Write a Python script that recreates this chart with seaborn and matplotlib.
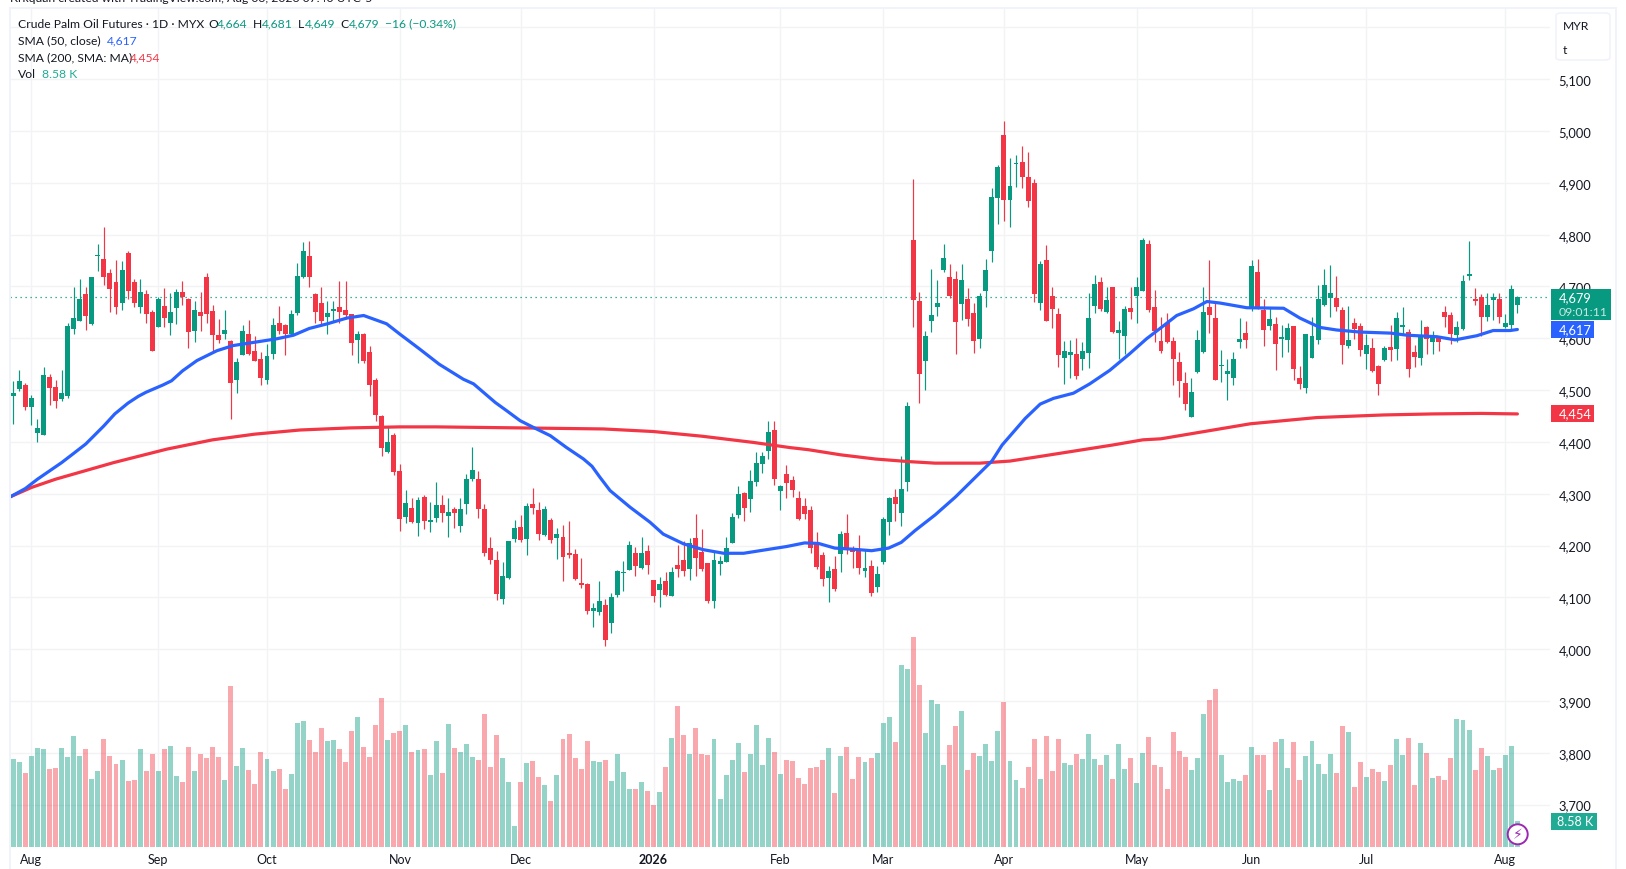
import matplotlib
matplotlib.use("Agg")
import matplotlib.pyplot as plt
from matplotlib.patches import FancyBboxPatch, Rectangle, Circle
import numpy as np
import pandas as pd
import seaborn as sns

open_ = [
    4489, 4502, 4510, 4467, 4417, 4413, 4525, 4506, 4483, 4489,
    4618, 4633, 4686, 4628, 4759, 4753, 4726, 4709, 4668, 4765,
    4709, 4660, 4686, 4651, 4622, 4662, 4630, 4658, 4689, 4676,
    4614, 4651, 4718, 4653, 4606, 4608, 4595, 4520, 4568, 4608,
    4575, 4560, 4520, 4570, 4630, 4626, 4608, 4649, 4718, 4759,
    4686, 4668, 4641, 4653, 4660, 4655, 4647, 4597, 4608, 4574,
    4520, 4450, 4380, 4413, 4344, 4255, 4272, 4243, 4294, 4245,
    4253, 4278, 4257, 4270, 4238, 4280, 4328, 4328, 4270, 4195,
    4172, 4097, 4137, 4212, 4236, 4212, 4280, 4268, 4220, 4249,
    4214, 4216, 4185, 4183, 4128, 4126, 4073, 4072, 4085, 4050,
    4104, 4147, 4153, 4185, 4157, 4189, 4133, 4114, 4131, 4102,
    4162, 4172, 4155, 4214, 4187, 4166, 4093, 4164, 4168, 4205,
    4259, 4301, 4290, 4323, 4357, 4382, 4423, 4305, 4338, 4326,
    4292, 4276, 4268, 4203, 4182, 4137, 4155, 4184, 4224, 4195,
    4189, 4151, 4160, 4120, 4168, 4245, 4294, 4263, 4323, 4790,
    4672, 4556, 4633, 4660, 4732, 4718, 4714, 4666, 4676, 4649,
    4599, 4691, 4769, 4871, 4992, 4867, 4937, 4940, 4911, 4900,
    4668, 4751, 4682, 4647, 4562, 4568, 4570, 4560, 4572, 4662,
    4709, 4651, 4699, 4610, 4604, 4659, 4682, 4691, 4782, 4660,
    4595, 4630, 4595, 4554, 4514, 4448, 4535, 4574, 4660, 4639,
    4547, 4531, 4523, 4593, 4610, 4657, 4728, 4655, 4624, 4628,
    4599, 4597, 4624, 4523, 4504, 4562, 4597, 4664, 4678, 4678,
    4655, 4585, 4630, 4624, 4570, 4581, 4547, 4558, 4583, 4579,
    4622, 4612, 4574, 4562, 4622, 4593, 4604, 4651, 4645, 4606,
    4618, 4720, 4676, 4680, 4641, 4674, 4676, 4622, 4626, 4664,
]
high = [
    4518, 4538, 4513, 4490, 4444, 4545, 4531, 4520, 4539, 4630,
    4699, 4715, 4699, 4718, 4782, 4815, 4734, 4751, 4749, 4769,
    4715, 4715, 4693, 4655, 4680, 4697, 4687, 4695, 4711, 4678,
    4672, 4689, 4726, 4664, 4637, 4655, 4597, 4562, 4626, 4635,
    4604, 4574, 4589, 4639, 4662, 4628, 4655, 4745, 4786, 4788,
    4687, 4699, 4672, 4672, 4711, 4711, 4647, 4614, 4610, 4585,
    4523, 4452, 4429, 4417, 4357, 4307, 4292, 4294, 4297, 4284,
    4323, 4297, 4292, 4274, 4292, 4338, 4390, 4344, 4280, 4216,
    4189, 4168, 4209, 4249, 4259, 4282, 4311, 4284, 4276, 4253,
    4234, 4240, 4247, 4193, 4176, 4128, 4089, 4131, 4097, 4108,
    4153, 4170, 4209, 4197, 4216, 4201, 4133, 4139, 4149, 4158,
    4201, 4209, 4214, 4261, 4232, 4166, 4187, 4180, 4216, 4263,
    4315, 4303, 4346, 4380, 4380, 4440, 4440, 4317, 4355, 4334,
    4305, 4292, 4276, 4226, 4187, 4160, 4180, 4228, 4261, 4199,
    4220, 4191, 4172, 4160, 4255, 4294, 4309, 4373, 4477, 4908,
    4689, 4614, 4734, 4713, 4782, 4743, 4730, 4743, 4697, 4668,
    4687, 4753, 4890, 4935, 5020, 4948, 4954, 4971, 4960, 4908,
    4749, 4780, 4699, 4659, 4595, 4597, 4601, 4593, 4687, 4722,
    4718, 4699, 4699, 4633, 4662, 4699, 4718, 4794, 4790, 4693,
    4641, 4649, 4602, 4574, 4535, 4523, 4616, 4699, 4751, 4672,
    4577, 4560, 4574, 4639, 4633, 4751, 4753, 4676, 4659, 4641,
    4626, 4630, 4624, 4547, 4608, 4641, 4703, 4734, 4742, 4720,
    4660, 4662, 4639, 4630, 4608, 4601, 4548, 4585, 4626, 4651,
    4660, 4618, 4587, 4635, 4624, 4614, 4604, 4662, 4651, 4633,
    4722, 4788, 4697, 4686, 4688, 4688, 4688, 4647, 4703, 4681,
]
low = [
    4435, 4499, 4462, 4433, 4400, 4413, 4471, 4465, 4479, 4485,
    4608, 4633, 4616, 4626, 4730, 4703, 4651, 4647, 4655, 4676,
    4660, 4649, 4630, 4575, 4622, 4622, 4606, 4628, 4664, 4581,
    4593, 4614, 4630, 4575, 4591, 4599, 4444, 4494, 4568, 4568,
    4556, 4510, 4512, 4560, 4608, 4568, 4606, 4645, 4716, 4699,
    4630, 4626, 4608, 4633, 4630, 4637, 4568, 4552, 4552, 4489,
    4440, 4373, 4379, 4336, 4228, 4243, 4243, 4218, 4232, 4226,
    4245, 4245, 4216, 4234, 4226, 4261, 4325, 4253, 4180, 4164,
    4095, 4087, 4135, 4207, 4207, 4182, 4261, 4211, 4218, 4205,
    4174, 4131, 4176, 4133, 4118, 4068, 4043, 4066, 4006, 4031,
    4101, 4112, 4153, 4141, 4155, 4145, 4091, 4081, 4102, 4102,
    4139, 4141, 4133, 4141, 4151, 4089, 4079, 4143, 4168, 4205,
    4253, 4247, 4265, 4315, 4340, 4367, 4317, 4269, 4292, 4294,
    4249, 4251, 4185, 4155, 4122, 4091, 4112, 4149, 4184, 4157,
    4145, 4139, 4102, 4110, 4164, 4220, 4247, 4238, 4305, 4622,
    4475, 4500, 4612, 4643, 4728, 4678, 4570, 4635, 4624, 4572,
    4581, 4660, 4747, 4821, 4826, 4815, 4892, 4890, 4854, 4670,
    4655, 4633, 4620, 4545, 4512, 4523, 4521, 4539, 4543, 4649,
    4653, 4649, 4610, 4560, 4570, 4637, 4630, 4691, 4651, 4593,
    4572, 4591, 4510, 4487, 4462, 4448, 4533, 4572, 4610, 4519,
    4516, 4481, 4510, 4581, 4581, 4653, 4657, 4585, 4616, 4539,
    4564, 4574, 4519, 4502, 4494, 4562, 4589, 4662, 4641, 4653,
    4550, 4581, 4599, 4566, 4541, 4535, 4490, 4556, 4556, 4558,
    4606, 4525, 4545, 4548, 4570, 4570, 4576, 4622, 4589, 4593,
    4616, 4712, 4664, 4604, 4633, 4635, 4630, 4620, 4616, 4649,
]
close = [
    4494, 4518, 4467, 4485, 4427, 4529, 4504, 4479, 4494, 4624,
    4639, 4676, 4643, 4718, 4761, 4718, 4695, 4660, 4732, 4691,
    4668, 4689, 4647, 4575, 4676, 4639, 4651, 4689, 4680, 4612,
    4655, 4643, 4647, 4606, 4597, 4616, 4514, 4554, 4614, 4570,
    4556, 4523, 4566, 4626, 4614, 4608, 4647, 4720, 4769, 4718,
    4651, 4633, 4649, 4657, 4651, 4645, 4591, 4608, 4556, 4510,
    4452, 4388, 4400, 4342, 4251, 4282, 4245, 4288, 4247, 4249,
    4278, 4263, 4265, 4263, 4270, 4328, 4346, 4270, 4185, 4172,
    4106, 4141, 4209, 4234, 4211, 4276, 4272, 4222, 4270, 4211,
    4222, 4178, 4182, 4135, 4124, 4073, 4079, 4093, 4018, 4101,
    4151, 4149, 4201, 4160, 4185, 4162, 4102, 4126, 4104, 4149,
    4155, 4151, 4205, 4176, 4155, 4093, 4172, 4170, 4195, 4255,
    4299, 4272, 4325, 4359, 4373, 4419, 4328, 4315, 4321, 4307,
    4251, 4261, 4195, 4158, 4135, 4151, 4116, 4222, 4193, 4187,
    4157, 4157, 4108, 4145, 4251, 4292, 4280, 4309, 4469, 4674,
    4531, 4604, 4645, 4668, 4755, 4682, 4631, 4713, 4637, 4595,
    4682, 4732, 4873, 4931, 4867, 4894, 4938, 4911, 4865, 4686,
    4743, 4633, 4657, 4568, 4575, 4574, 4527, 4575, 4639, 4705,
    4657, 4674, 4612, 4616, 4657, 4651, 4699, 4790, 4655, 4614,
    4575, 4593, 4560, 4518, 4473, 4496, 4597, 4651, 4645, 4519,
    4548, 4537, 4560, 4599, 4597, 4740, 4659, 4616, 4637, 4589,
    4603, 4620, 4541, 4512, 4608, 4604, 4676, 4703, 4687, 4660,
    4587, 4597, 4618, 4577, 4587, 4537, 4512, 4581, 4577, 4639,
    4626, 4541, 4564, 4604, 4599, 4606, 4593, 4641, 4608, 4622,
    4711, 4724, 4672, 4641, 4664, 4680, 4641, 4630, 4695, 4679,
]
volume_k = [
    29.0, 28.1, 24.4, 30.0, 32.7, 32.3, 25.7, 26.1, 32.7, 29.7,
    36.6, 30.0, 32.3, 22.4, 25.1, 35.6, 30.0, 27.4, 28.7, 21.8,
    22.1, 32.3, 25.1, 30.7, 25.1, 32.3, 33.3, 23.4, 21.5, 33.0,
    25.1, 30.7, 29.4, 33.0, 29.7, 22.1, 53.1, 26.7, 32.7, 25.4,
    20.8, 31.4, 29.0, 25.1, 25.7, 19.1, 24.1, 40.9, 41.6, 35.3,
    31.4, 39.3, 35.0, 35.3, 32.3, 28.1, 38.3, 42.9, 33.0, 29.7,
    40.3, 49.2, 35.3, 37.6, 38.3, 40.3, 31.4, 32.0, 32.3, 23.8,
    35.0, 24.4, 40.6, 32.7, 31.4, 34.0, 29.7, 28.7, 43.9, 26.4,
    37.0, 29.4, 21.5, 6.9, 21.5, 27.7, 28.4, 23.1, 20.5, 15.2,
    23.8, 35.6, 37.3, 29.4, 25.7, 35.0, 28.4, 28.1, 28.7, 21.8,
    30.7, 24.8, 19.1, 19.1, 21.5, 18.5, 13.9, 18.2, 26.4, 36.0,
    46.5, 37.0, 30.7, 39.3, 30.7, 30.4, 35.6, 15.8, 23.8, 28.7,
    34.3, 24.8, 30.7, 40.3, 27.1, 36.0, 31.4, 24.1, 28.7, 28.4,
    22.8, 20.8, 26.1, 26.4, 28.7, 32.7, 17.8, 30.0, 33.0, 22.4,
    29.7, 28.1, 29.4, 31.0, 40.9, 42.9, 34.7, 60.1, 58.7, 69.3,
    53.5, 37.6, 48.5, 47.2, 27.1, 33.7, 39.9, 44.9, 25.4, 31.0,
    30.0, 34.0, 28.4, 38.3, 47.9, 28.4, 22.1, 19.5, 26.4, 35.6,
    22.4, 36.6, 25.1, 35.6, 27.7, 27.1, 30.7, 29.0, 37.3, 29.0,
    27.1, 30.4, 22.4, 34.0, 25.7, 29.4, 21.1, 31.0, 36.3, 27.1,
    26.4, 19.1, 38.0, 31.7, 29.7, 25.4, 29.4, 43.9, 48.5, 52.1,
    30.4, 21.5, 22.4, 21.8, 23.8, 33.0, 30.4, 30.4, 18.8, 34.7,
    35.6, 26.1, 34.7, 22.1, 30.0, 35.0, 27.4, 24.1, 30.7, 24.4,
    39.9, 38.0, 19.8, 28.1, 23.1, 25.7, 24.8, 21.8, 27.1, 35.6,
    30.4, 36.0, 20.5, 34.3, 31.0, 22.8, 23.4, 22.1, 29.4, 42.2,
    41.9, 38.6, 25.4, 32.7, 30.0, 25.4, 26.1, 30.4, 33.3, 8.58,
]

sma50_idx = [-0.5, 2, 4, 6, 8, 9.9, 12, 15, 16.8, 19, 20.7, 22, 24.8, 26.2, 28, 30.4, 33.7, 36.4, 40.3, 43.6, 46.4, 49, 52,
             55.2, 58, 61.8, 64, 67.3, 70.5, 74.5, 76.2, 77.8, 79.8, 81.7, 83.9, 86.1, 88.9, 91.6, 94.4, 95.8, 97.1, 98.8,
             102.1, 105.4, 107.6, 111, 114.2, 117.6, 120.9, 124.7, 128, 131, 133.3, 136, 138.8, 142.1, 144.9, 147, 149.3,
             152.6, 156, 162, 163.7, 167.5, 170, 172.2, 175.5, 178.2, 181.5, 184.8, 187.6, 190.4, 192.6, 195.4, 197.6,
             199.8, 204.2, 210.3, 213, 216.3, 219.1, 223, 228, 230.7, 235.7, 238.7, 242.3, 245, 247.8, 249]
sma50 = [4294, 4310, 4328, 4344, 4360, 4377, 4396, 4431, 4454, 4475, 4488, 4496, 4510, 4518, 4537, 4557, 4576, 4586, 4593, 4599, 4606, 4619, 4628,
         4639, 4644, 4628, 4608, 4579, 4550, 4521, 4512, 4496, 4476, 4460, 4441, 4428, 4412, 4389, 4367, 4353, 4332, 4306,
         4274, 4245, 4222, 4203, 4192, 4185, 4185, 4192, 4198, 4205, 4204, 4195, 4193, 4190, 4195, 4206, 4229,
         4259, 4294, 4363, 4394, 4445, 4473, 4484, 4494, 4512, 4538, 4570, 4599, 4624, 4644, 4657, 4671,
         4668, 4659, 4658, 4639, 4621, 4616, 4612, 4610, 4606, 4603, 4597, 4605, 4615, 4615, 4617]
sma200_idx = [-0.5, 3, 7, 16.6, 25.4, 33, 40, 47.5, 55.7, 64, 70, 84, 97.7, 106, 114, 122.5, 128.6, 131.6, 137,
              142.7, 148.2, 152.6, 160, 165, 170, 176, 182, 187, 190, 204.8, 215.8, 226.8, 235, 243, 249]
sma200 = [4294, 4312, 4328, 4360, 4386, 4404, 4415, 4423, 4427, 4429, 4429, 4427, 4425, 4420, 4411, 4399, 4389, 4385, 4375,
          4367, 4362, 4359, 4359, 4363, 4372, 4383, 4394, 4404, 4406, 4435, 4447, 4452, 4454, 4455, 4454]

price_ticks = [5200, 5100, 5000, 4900, 4800, 4700, 4600, 4500, 4400, 4300, 4200, 4100, 4000, 3900, 3800, 3700]
price_labels = ["", "5,100", "5,000", "4,900", "4,800", "4,700", "4,600", "4,500", "4,400", "4,300", "4,200",
                "4,100", "4,000", "3,900", "3,800", "3,700"]
month_idx = [3, 24, 42, 64, 84, 106, 127, 144, 164, 186, 205, 224, 247]
month_labels = ["Aug", "Sep", "Oct", "Nov", "Dec", "2026", "Feb", "Mar", "Apr", "May", "Jun", "Jul", "Aug"]

GREEN = "#089981"
RED = "#F23645"
BLUE = "#2962FF"
TEAL = "#22AB94"
DARK = "#131722"
GRID = "#F2F3F5"
W, H = 1626, 870

sns.set_theme(style="white")
plt.rcParams["font.family"] = ["Lato", "DejaVu Sans"]

fig = plt.figure(figsize=(W / 100, H / 100), dpi=100, facecolor="white")
rect = [10 / W, 1 - 848 / H, 1540 / W, 839 / H]
ax = fig.add_axes(rect)
ax_vol = fig.add_axes(rect)

df = pd.DataFrame({"i": np.arange(len(close)), "open": open_, "high": high, "low": low, "close": close, "vol": volume_k})
df["dir"] = np.where(df["close"] >= df["open"], "up", "down")
colors = df["dir"].map({"up": GREEN, "down": RED})

# price pane
ax.vlines(df["i"], df["low"], df["high"], colors=colors, linewidth=0.85, zorder=3)
ax.bar(df["i"], (df["close"] - df["open"]).abs().clip(lower=2), bottom=df[["open", "close"]].min(axis=1),
       width=0.82, color=colors, linewidth=0, zorder=4)
sns.lineplot(x=sma200_idx, y=sma200, color=RED, linewidth=2.3, errorbar=None, ax=ax, zorder=5)
sns.lineplot(x=sma50_idx, y=sma50, color=BLUE, linewidth=2.3, errorbar=None, ax=ax, zorder=6)
ax.axhline(close[-1], color=GREEN, linewidth=0.9, linestyle=(0, (1, 3)), zorder=2)

ax.set_xlim(-0.546, 254.4)
ax.set_ylim(3618, 5237.6)
ax.set_yticks(price_ticks, price_labels)
ax.set_xticks(month_idx, month_labels)
ax.yaxis.tick_right()
ax.tick_params(axis="y", length=0, pad=6, labelsize=9.3, labelcolor=DARK)
ax.tick_params(axis="x", length=0, pad=4, labelsize=9, labelcolor=DARK)
ax.get_xticklabels()[5].set_fontweight("bold")
ax.grid(True, color=GRID, linewidth=1)
ax.set_axisbelow(True)
for s in ax.spines.values():
    s.set_visible(False)

# volume pane, same pixel box, sits over the grid
sns.barplot(data=df, x="i", y="vol", hue="dir", palette={"up": GREEN, "down": RED}, native_scale=True,
            dodge=False, width=0.82, alpha=0.43, saturation=1, linewidth=0, legend=False, ax=ax_vol)
ax_vol.set_xlim(ax.get_xlim())
ax_vol.set_ylim(0, 277)
ax_vol.patch.set_visible(False)
ax_vol.set_axis_off()


def px_text(x, y, s, color=DARK, size=8.7, **kw):
    kw.setdefault("va", "center")
    return fig.text(x / W, 1 - y / H, s, color=color, fontsize=size, **kw)


def px_box(x0, y0, x1, y1, color):
    fig.add_artist(Rectangle((x0 / W, 1 - y1 / H), (x1 - x0) / W, (y1 - y0) / H, transform=fig.transFigure,
                             facecolor=color, edgecolor="none", zorder=10))


# pane frame
fig.add_artist(Rectangle((10 / W, -0.01), 1606 / W, 1.01 - 9 / H, transform=fig.transFigure,
                         facecolor="none", edgecolor="#F0F3FA", linewidth=1.4, zorder=1))

# header rows
px_text(10, -1, "Krkquan created with TradingView.com, Aug 03, 2026 07:40 UTC-5")
px_text(18, 24, "Crude Palm Oil Futures · 1D · MYX")
for x, lab, val in [(208.5, "O", "4,664"), (253, "H", "4,681"), (298, "L", "4,649"), (340.5, "C", "4,679")]:
    px_text(x, 24, lab)
    px_text(x + (8.5 if lab != "L" else 6.5), 24, val, color=GREEN)
px_text(385, 24, "−16 (−0.34%)", color=GREEN)
px_text(18, 41, "SMA (50, close)")
px_text(107, 41, "4,617", color=BLUE)
px_text(18, 58, "SMA (200, SMA: MA)")
px_text(130, 58, "4,454", color=RED)
px_text(18, 75, "Vol")
px_text(41.5, 75, "8.58 K", color=TEAL)

# unit box
fig.add_artist(FancyBboxPatch((1556 / W, 1 - 61 / H), 54 / W, 47 / H, boxstyle="round,pad=0,rounding_size=0.003",
                              transform=fig.transFigure, facecolor="white", edgecolor="#F0F3FA", linewidth=1.2, zorder=9))
px_text(1563, 27, "MYR", zorder=11)
px_text(1563, 50, "t", zorder=11)

# price tags
px_box(1551, 290, 1611, 321, GREEN)
px_text(1559, 298, "4,679", color="white", size=9.3, zorder=11)
px_text(1559, 312.5, "09:01:11", color="#C5E8E2", size=8.8, zorder=11)
px_box(1551, 322, 1594, 339, BLUE)
px_text(1559, 330.5, "4,617", color="white", size=9.3, zorder=11)
px_box(1551, 406, 1594, 423, RED)
px_text(1559, 414.5, "4,454", color="white", size=9.3, zorder=11)
px_box(1551, 814, 1597, 831, TEAL)
px_text(1557, 822.5, "8.58 K", color="white", size=9, zorder=11)

# lightning badge
fig.add_artist(Circle((1517.7, H - 835.3), 10, transform=None, facecolor="white", edgecolor="#9C27B0",
                      linewidth=1.4, zorder=12))
fig.text(1517.7 / W, 1 - 835.3 / H, "⚡", color="#9C27B0", fontsize=10, ha="center", va="center",
         family="DejaVu Sans", zorder=13)

fig.savefig("out.png", dpi=100, facecolor="white")
